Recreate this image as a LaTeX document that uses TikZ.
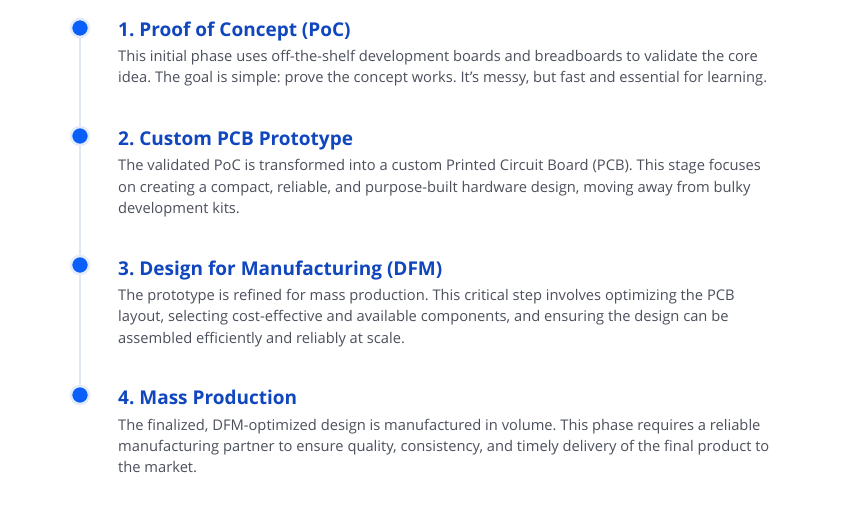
\documentclass[tikz,border=0pt]{standalone}
\usepackage{fontspec}
\setmainfont{Open Sans}
\frenchspacing
\definecolor{dotblue}{RGB}{10,95,250}
\definecolor{halo}{RGB}{228,236,252}
\definecolor{titleblue}{RGB}{16,70,190}
\definecolor{bodygray}{RGB}{75,80,92}
\definecolor{linegray}{RGB}{226,232,240}
\tikzset{
  ttl/.style={anchor=base west, inner sep=0pt, text=titleblue, font=\fontsize{19}{22}\selectfont\bfseries},
  body/.style={anchor=base west, inner sep=0pt, text=bodygray, font=\fontsize{14.7}{17}\selectfont},
  dotnode/.style={circle, fill=dotblue, draw=halo, line width=2.5pt, minimum size=18pt, inner sep=0pt},
}
\begin{document}
\begin{tikzpicture}[x=1pt,y=-1pt]
\useasboundingbox[fill=white] (0,0) rectangle (862,532);
\coordinate (top) at (80,28);
\coordinate (bot) at (80,395);
\draw[linegray, line width=2pt] (top) -- (bot);
\node[dotnode] (d1) at (80,28) {};
\node[dotnode] (d2) at (80,136) {};
\node[dotnode] (d3) at (80,265) {};
\node[dotnode] (d4) at (80,395) {};

\node[ttl] (t1) at (118,37) {1. Proof of Concept (PoC)};
\node[body] (b11) at (118,62) {This initial phase uses off-the-shelf development boards and breadboards to validate the core};
\node[body] (b12) at (118,83) {idea. The goal is simple: prove the concept works. It’s messy, but fast and essential for learning.};

\node[ttl] (t2) at (118,146) {2. Custom PCB Prototype};
\node[body] (b21) at (118,170) {The validated PoC is transformed into a custom Printed Circuit Board (PCB). This stage focuses};
\node[body] (b22) at (118,192) {on creating a compact, reliable, and purpose-built hardware design, moving away from bulky};
\node[body] (b23) at (118,213) {development kits.};

\node[ttl] (t3) at (118,275) {3. Design for Manufacturing (DFM)};
\node[body] (b31) at (118,300) {The prototype is refined for mass production. This critical step involves optimizing the PCB};
\node[body] (b32) at (118,321) {layout, selecting cost-effective and available components, and ensuring the design can be};
\node[body] (b33) at (118,343) {assembled efficiently and reliably at scale.};

\node[ttl] (t4) at (118,404) {4. Mass Production};
\node[body] (b41) at (118,430) {The finalized, DFM-optimized design is manufactured in volume. This phase requires a reliable};
\node[body] (b42) at (118,451) {manufacturing partner to ensure quality, consistency, and timely delivery of the final product to};
\node[body] (b43) at (118,472) {the market.};
\end{tikzpicture}
\end{document}
